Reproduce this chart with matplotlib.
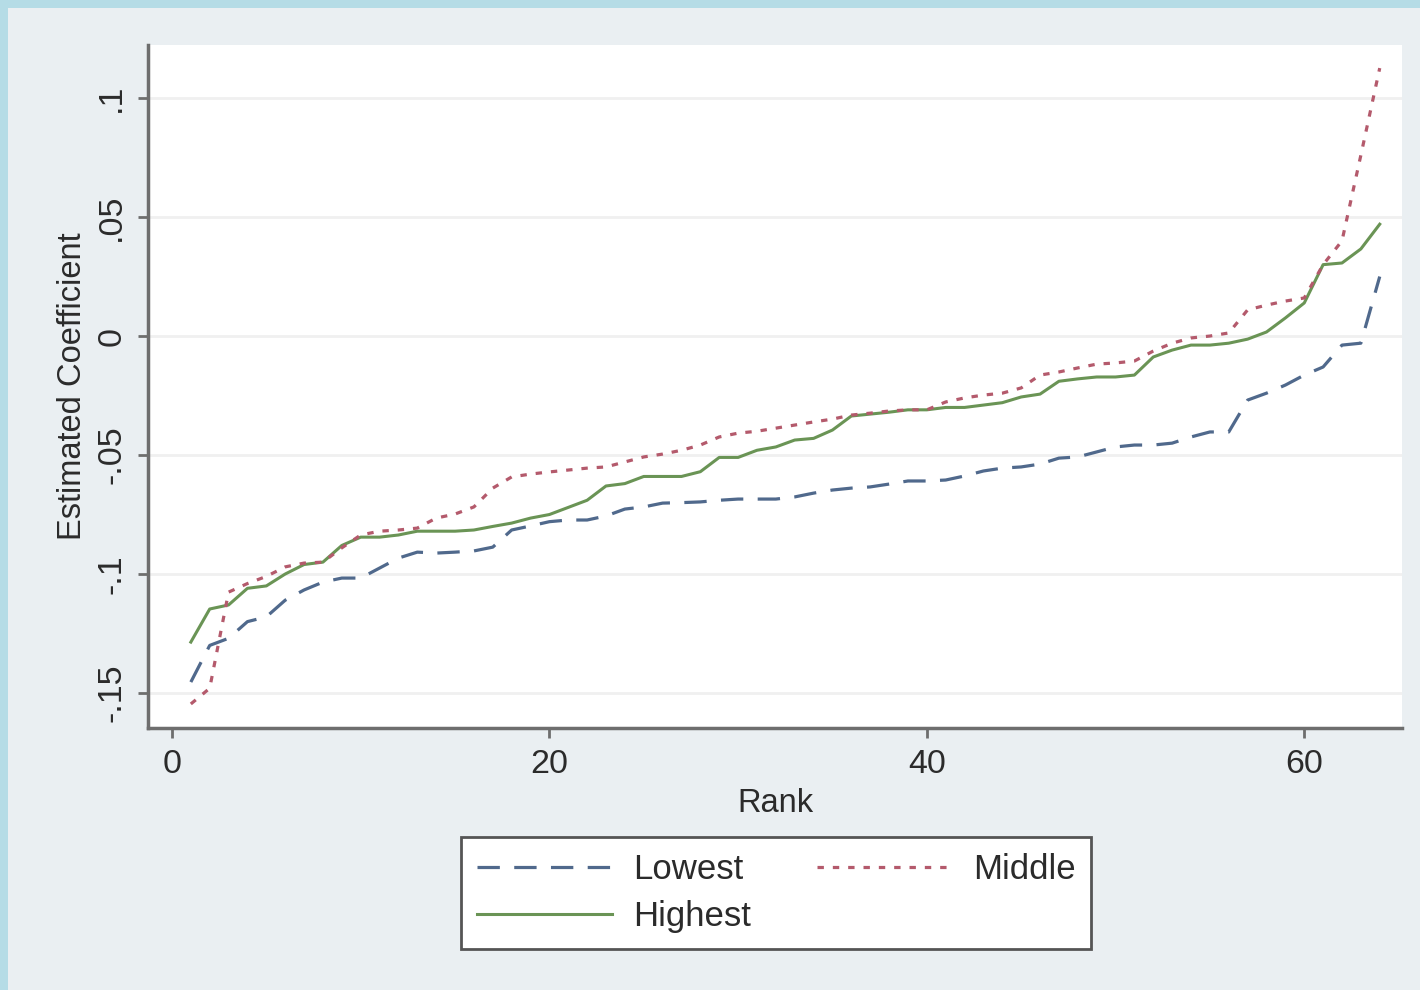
import numpy as np
import matplotlib.pyplot as plt
from matplotlib.patches import Rectangle

plt.rcParams['font.family'] = ['Liberation Sans', 'DejaVu Sans']

rank = np.arange(1, 65)

lowest = [-0.1454, -0.130, -0.127, -0.120, -0.118, -0.111, -0.1067, -0.1034,
          -0.1017, -0.1017, -0.0975, -0.0933, -0.0908, -0.0912, -0.0908, -0.0903,
          -0.0887, -0.0815, -0.0798, -0.078, -0.0773, -0.0773, -0.0756, -0.0727,
          -0.0718, -0.0702, -0.070, -0.0697, -0.069, -0.0685, -0.0685, -0.0685,
          -0.0676, -0.066, -0.0647, -0.0639, -0.0634, -0.0622, -0.0609, -0.0609,
          -0.0605, -0.0588, -0.0567, -0.0555, -0.055, -0.0538, -0.0513, -0.0508,
          -0.0487, -0.0466, -0.0458, -0.0458, -0.045, -0.0424, -0.0403, -0.0403,
          -0.0269, -0.024, -0.0206, -0.0164, -0.013, -0.0038, -0.003, 0.025]

middle = [-0.1546, -0.148, -0.1076, -0.104, -0.101, -0.097, -0.0954, -0.095,
          -0.089, -0.0836, -0.082, -0.0815, -0.0807, -0.0765, -0.0748, -0.0718,
          -0.0639, -0.0592, -0.058, -0.0571, -0.0563, -0.0555, -0.055, -0.0529,
          -0.0508, -0.0496, -0.048, -0.0458, -0.0424, -0.0408, -0.040, -0.0387,
          -0.0374, -0.0361, -0.0349, -0.0332, -0.0324, -0.0315, -0.031, -0.031,
          -0.0277, -0.026, -0.0248, -0.024, -0.0218, -0.0164, -0.0151, -0.0134,
          -0.0118, -0.0113, -0.0105, -0.0063, -0.003, -0.0008, 0.0, 0.0013,
          0.011, 0.013, 0.0147, 0.016, 0.030, 0.040, 0.076, 0.1126]

highest = [-0.1286, -0.1147, -0.113, -0.106, -0.105, -0.100, -0.096, -0.095,
           -0.088, -0.0845, -0.0845, -0.0836, -0.082, -0.082, -0.082, -0.0815,
           -0.080, -0.0786, -0.0765, -0.075, -0.072, -0.069, -0.063, -0.062,
           -0.059, -0.059, -0.059, -0.057, -0.051, -0.051, -0.048, -0.0466,
           -0.0437, -0.043, -0.0395, -0.0336, -0.0328, -0.032, -0.031, -0.031,
           -0.030, -0.030, -0.029, -0.028, -0.0256, -0.0244, -0.019, -0.018,
           -0.0172, -0.0172, -0.0164, -0.0088, -0.0059, -0.0038, -0.0038, -0.003,
           -0.0013, 0.0017, 0.0076, 0.0139, 0.030, 0.0307, 0.0366, 0.047]

yticks = [-0.15, -0.1, -0.05, 0, 0.05, 0.1]
ytick_labels = ['-.15', '-.1', '-.05', '0', '.05', '.1']
xticks = [0, 20, 40, 60]

text_col = '#2b2b2b'
axis_col = '#6e6e6e'

fig = plt.figure(figsize=(14.2, 9.9), dpi=100, facecolor='#b5dce6')
fig.patches.append(Rectangle((8 / 1420, 0), 1, 1 - 8 / 990, transform=fig.transFigure,
                             facecolor='#eaeff2', edgecolor='none', zorder=-10))

ax = fig.add_axes([148 / 1420, 262 / 990, 1254 / 1420, 683 / 990])
ax.set_facecolor('white')

ax.plot(rank, lowest, color='#50698c', lw=2.3, dashes=(7, 4.5), label='Lowest')
ax.plot(rank, highest, color='#6a9455', lw=2.2, label='Highest')
ax.plot(rank, middle, color='#b45a6c', lw=2.3, dashes=(2, 2.8), label='Middle')

ax.set_xlim(-1.27, 65.18)
ax.set_ylim(-0.1647, 0.1223)
ax.set_xticks(xticks)
ax.set_yticks(yticks)
ax.set_yticklabels(ytick_labels, rotation=90, va='center')

ax.grid(axis='y', color='#f0f0f0', lw=2)
ax.set_axisbelow(True)

for s in ['top', 'right']:
    ax.spines[s].set_visible(False)
for s in ['left', 'bottom']:
    ax.spines[s].set_color(axis_col)
    ax.spines[s].set_linewidth(2.5)

ax.tick_params(axis='both', direction='out', length=7, width=2, color=axis_col,
               labelsize=24.5, labelcolor=text_col, pad=8)

ax.set_xlabel('Rank', fontsize=23.5, color=text_col, labelpad=6)
ax.set_ylabel('Estimated Coefficient', fontsize=23.5, color=text_col, labelpad=6)

leg = fig.legend(loc='center', bbox_to_anchor=(776 / 1420, 1 - 893 / 990), ncol=2,
                 fontsize=25, frameon=True, fancybox=False, framealpha=1,
                 handlelength=3.9, handletextpad=0.6, columnspacing=1.9,
                 labelspacing=0.42, borderpad=0.45, borderaxespad=0)
leg.get_frame().set_edgecolor('#555555')
leg.get_frame().set_linewidth(2)
for t in leg.get_texts():
    t.set_color(text_col)

fig.savefig('out.png', dpi=100, facecolor=fig.get_facecolor())
